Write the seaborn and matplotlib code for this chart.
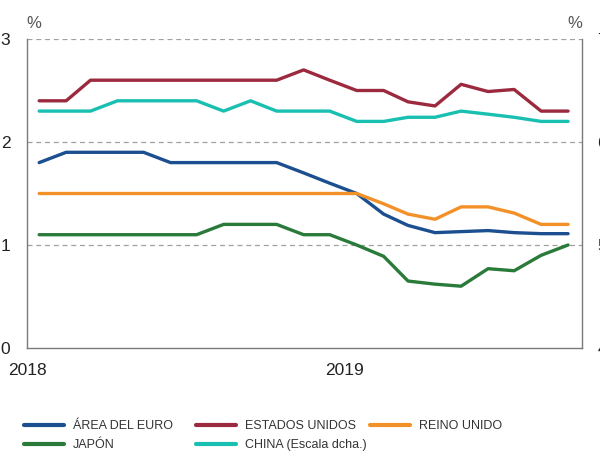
import numpy as np
import pandas as pd
import matplotlib
matplotlib.use("Agg")
import matplotlib.pyplot as plt
import seaborn as sns
from matplotlib.lines import Line2D

# Monthly observations, January 2018 - September 2019 (plotted mid-month)
meses = pd.date_range("2018-01-01", periods=21, freq="MS") + pd.Timedelta(days=14)

area_euro = [1.8, 1.9, 1.9, 1.9, 1.9, 1.8, 1.8, 1.8, 1.8, 1.8, 1.7, 1.6, 1.5,
             1.3, 1.19, 1.12, 1.13, 1.14, 1.12, 1.11, 1.11]
estados_unidos = [2.4, 2.4, 2.6, 2.6, 2.6, 2.6, 2.6, 2.6, 2.6, 2.6, 2.7, 2.6, 2.5,
                  2.5, 2.39, 2.35, 2.56, 2.49, 2.51, 2.3, 2.3]
reino_unido = [1.5, 1.5, 1.5, 1.5, 1.5, 1.5, 1.5, 1.5, 1.5, 1.5, 1.5, 1.5, 1.5,
               1.4, 1.3, 1.25, 1.37, 1.37, 1.31, 1.2, 1.2]
japon = [1.1, 1.1, 1.1, 1.1, 1.1, 1.1, 1.1, 1.2, 1.2, 1.2, 1.1, 1.1, 1.0,
         0.89, 0.65, 0.62, 0.6, 0.77, 0.75, 0.9, 1.0]
china = [6.3, 6.3, 6.3, 6.4, 6.4, 6.4, 6.4, 6.3, 6.4, 6.3, 6.3, 6.3, 6.2,
         6.2, 6.24, 6.24, 6.3, 6.27, 6.24, 6.2, 6.2]

etiquetas = ["ÁREA DEL EURO", "ESTADOS UNIDOS", "REINO UNIDO", "JAPÓN",
             "CHINA (Escala dcha.)"]
colores = {
    "ÁREA DEL EURO": "#1c4f8f",
    "ESTADOS UNIDOS": "#9c2a3e",
    "REINO UNIDO": "#f39129",
    "JAPÓN": "#2a7a3a",
    "CHINA (Escala dcha.)": "#19bfb1",
}
anios = ["2018", "2019"]

sns.set_style("white")
plt.rcParams["font.family"] = ["Liberation Sans", "DejaVu Sans"]

izq = pd.DataFrame({
    "mes": meses,
    "ÁREA DEL EURO": area_euro,
    "ESTADOS UNIDOS": estados_unidos,
    "REINO UNIDO": reino_unido,
    "JAPÓN": japon,
}).melt(id_vars="mes", var_name="serie", value_name="valor")
der = pd.DataFrame({"mes": meses, "valor": china})

W, H = 600, 453
fig = plt.figure(figsize=(W / 100, H / 100), dpi=100)
ax = fig.add_axes([27 / W, 1 - 348 / H, (582 - 27) / W, (348 - 39) / H])

LW = 2.4
sns.lineplot(data=izq, x="mes", y="valor", hue="serie",
             hue_order=etiquetas[:4], palette=colores, linewidth=LW,
             ax=ax, legend=False)
ax2 = ax.twinx()
sns.lineplot(data=der, x="mes", y="valor", color=colores[etiquetas[4]],
             linewidth=LW, ax=ax2, legend=False)

# axes ranges and ticks
ax.set_xlim(pd.Timestamp("2018-01-01"), pd.Timestamp("2019-10-01"))
ax.set_ylim(0, 3)
ax2.set_ylim(4, 7)
ax.set_yticks([0, 1, 2, 3])
ax2.set_yticks([4, 5, 6, 7])
ax.set_xticks([pd.Timestamp(a + "-01-01") for a in anios])
ax.set_xticklabels(anios)
ax.set_xlabel("")
ax.set_ylabel("")
ax2.set_xlabel("")
ax2.set_ylabel("")

txt = "#222222"
spine_c = "#7a7a7a"
ax.tick_params(axis="y", length=0, pad=12, labelsize=12.5, labelcolor=txt)
ax2.tick_params(axis="y", length=0, pad=11, labelsize=12.5, labelcolor=txt)
ax.tick_params(axis="x", direction="in", length=5, width=1, color=spine_c,
               pad=11, labelsize=12.5, labelcolor=txt)

# dashed horizontal grid
for v in [1, 2, 3]:
    ax.axhline(v, color="#a0a0a0", linewidth=0.9, linestyle=(0, (4, 3)),
               zorder=0)

for a in (ax, ax2):
    a.spines["top"].set_visible(False)
    for s in ("left", "right", "bottom"):
        a.spines[s].set_color(spine_c)
        a.spines[s].set_linewidth(1)
ax.spines["right"].set_visible(False)
ax2.spines["left"].set_visible(False)
ax2.spines["bottom"].set_visible(False)

# unit labels
fig.text(26 / W, 1 - 23 / H, "%", fontsize=12, color="#555555",
         ha="left", va="center")
fig.text(582 / W, 1 - 23 / H, "%", fontsize=12, color="#555555",
         ha="right", va="center")

# legend in three columns
leg_font = {"family": ["Liberation Sans", "DejaVu Sans"], "size": 9}
col_x = [24, 196, 370]
columnas = [["ÁREA DEL EURO", "JAPÓN"],
            ["ESTADOS UNIDOS", "CHINA (Escala dcha.)"],
            ["REINO UNIDO"]]
for x0, col in zip(col_x, columnas):
    handles = [Line2D([], [], color=colores[c], linewidth=LW + 0.6) for c in col]
    fig.legend(handles, col, loc="upper left",
               bbox_to_anchor=(x0 / W, 1 - 420 / H), frameon=False,
               prop=leg_font, handlelength=3.2, handletextpad=0.7,
               borderpad=0, borderaxespad=0, labelspacing=0.55,
               labelcolor="#333333")

fig.savefig("out.png", dpi=100)
